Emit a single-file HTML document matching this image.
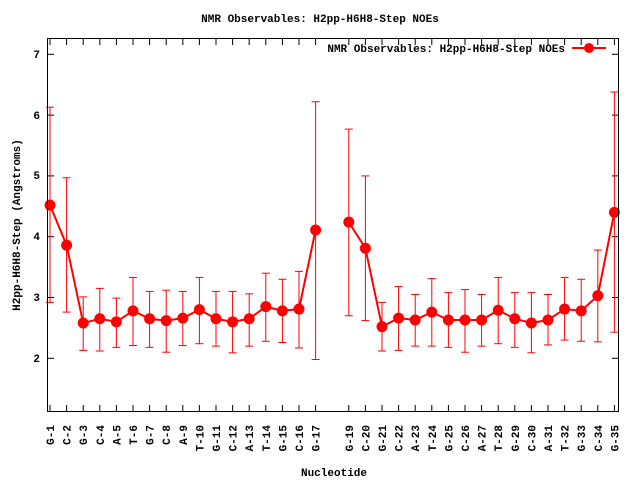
<!DOCTYPE html>
<html><head><meta charset="utf-8"><style>
body{margin:0;background:#fff}
svg text{font-family:"Liberation Mono","DejaVu Sans Mono",monospace;font-weight:bold;font-size:11px;fill:#000}
</style></head><body>
<svg id="s" width="640" height="480" xmlns="http://www.w3.org/2000/svg">
<rect width="640" height="480" fill="#fff"/>
<text x="320" y="22" text-anchor="middle">NMR Observables: H2pp-H6H8-Step NOEs</text>
<text x="334" y="476" text-anchor="middle">Nucleotide</text>
<text transform="translate(20,225) rotate(-90)" text-anchor="middle">H2pp-H6H8-Step (Angstroms)</text>
<text x="565" y="52" text-anchor="end">NMR Observables: H2pp-H6H8-Step NOEs</text>
<line x1="572" y1="48" x2="606" y2="48" stroke="#f00" stroke-width="2"/>
<circle cx="589" cy="48" r="5" fill="#f00"/>
<g text-anchor="end" style="font-size:12px">
<text x="40" y="58">7</text><text x="40" y="119">6</text><text x="40" y="179">5</text>
<text x="40" y="240">4</text><text x="40" y="301">3</text><text x="40" y="362">2</text>
</g>
<g id="plot"></g>
<rect x="47.5" y="38.5" width="571" height="373" fill="none" stroke="#000" stroke-width="1"/>
<g text-anchor="end">
<text transform="translate(54,425) rotate(-90)">G-1</text>
<text transform="translate(70.6,425) rotate(-90)">C-2</text>
<text transform="translate(87.2,425) rotate(-90)">G-3</text>
<text transform="translate(103.8,425) rotate(-90)">C-4</text>
<text transform="translate(120.4,425) rotate(-90)">A-5</text>
<text transform="translate(137,425) rotate(-90)">T-6</text>
<text transform="translate(153.6,425) rotate(-90)">G-7</text>
<text transform="translate(170.2,425) rotate(-90)">C-8</text>
<text transform="translate(186.8,425) rotate(-90)">A-9</text>
<text transform="translate(203.4,425) rotate(-90)">T-10</text>
<text transform="translate(220,425) rotate(-90)">G-11</text>
<text transform="translate(236.6,425) rotate(-90)">C-12</text>
<text transform="translate(253.2,425) rotate(-90)">A-13</text>
<text transform="translate(269.8,425) rotate(-90)">T-14</text>
<text transform="translate(286.4,425) rotate(-90)">G-15</text>
<text transform="translate(303,425) rotate(-90)">C-16</text>
<text transform="translate(319.6,425) rotate(-90)">G-17</text>
<text transform="translate(352.8,425) rotate(-90)">G-19</text>
<text transform="translate(369.4,425) rotate(-90)">C-20</text>
<text transform="translate(386,425) rotate(-90)">G-21</text>
<text transform="translate(402.6,425) rotate(-90)">C-22</text>
<text transform="translate(419.2,425) rotate(-90)">A-23</text>
<text transform="translate(435.8,425) rotate(-90)">T-24</text>
<text transform="translate(452.4,425) rotate(-90)">G-25</text>
<text transform="translate(469,425) rotate(-90)">C-26</text>
<text transform="translate(485.6,425) rotate(-90)">A-27</text>
<text transform="translate(502.2,425) rotate(-90)">T-28</text>
<text transform="translate(518.8,425) rotate(-90)">G-29</text>
<text transform="translate(535.4,425) rotate(-90)">C-30</text>
<text transform="translate(552,425) rotate(-90)">A-31</text>
<text transform="translate(568.6,425) rotate(-90)">T-32</text>
<text transform="translate(585.2,425) rotate(-90)">G-33</text>
<text transform="translate(601.8,425) rotate(-90)">C-34</text>
<text transform="translate(618.4,425) rotate(-90)">G-35</text>
</g>
</svg>
<script>
var d=[[1,4.52,2.92,6.13],[2,3.86,2.76,4.97],[3,2.58,2.13,3.01],[4,2.65,2.12,3.15],[5,2.60,2.18,2.99],[6,2.78,2.21,3.33],[7,2.65,2.18,3.10],[8,2.62,2.10,3.12],[9,2.66,2.21,3.10],[10,2.80,2.24,3.33],[11,2.65,2.20,3.10],[12,2.60,2.09,3.10],[13,2.65,2.20,3.06],[14,2.85,2.28,3.40],[15,2.78,2.26,3.30],[16,2.81,2.17,3.43],[17,4.11,1.98,6.22],
[19,4.24,2.70,5.77],[20,3.81,2.62,5.00],[21,2.52,2.12,2.92],[22,2.66,2.13,3.18],[23,2.63,2.20,3.05],[24,2.76,2.20,3.31],[25,2.63,2.18,3.08],[26,2.63,2.10,3.13],[27,2.63,2.20,3.05],[28,2.79,2.24,3.33],[29,2.65,2.18,3.08],[30,2.58,2.09,3.08],[31,2.63,2.22,3.05],[32,2.81,2.30,3.33],[33,2.78,2.28,3.30],[34,3.03,2.27,3.78],[35,4.40,2.43,6.38]];
function X(i){return 50+(i-1)*16.6}function Y(v){return 54.3+(7-v)*60.8}
var h='';
for(var v=2;v<=7;v++){var y=Y(v).toFixed(1);h+='<line x1="48" y1="'+y+'" x2="54" y2="'+y+'" stroke="#000"/><line x1="612" y1="'+y+'" x2="618" y2="'+y+'" stroke="#000"/>';}
for(var i=1;i<=35;i++){if(i==18)continue;var x=X(i).toFixed(1);h+='<line x1="'+x+'" y1="411" x2="'+x+'" y2="405" stroke="#000"/><line x1="'+x+'" y1="39" x2="'+x+'" y2="45" stroke="#000"/>';}
var p1=[],p2=[];
d.forEach(function(r){var x=X(r[0]),y1=Y(r[2]),y2=Y(r[3]);
h+='<line x1="'+x+'" y1="'+y1+'" x2="'+x+'" y2="'+y2+'" stroke="#f00"/>';
h+='<line x1="'+(x-4)+'" y1="'+y1+'" x2="'+(x+4)+'" y2="'+y1+'" stroke="#f00"/>';
h+='<line x1="'+(x-4)+'" y1="'+y2+'" x2="'+(x+4)+'" y2="'+y2+'" stroke="#f00"/>';
(r[0]<18?p1:p2).push(x+','+Y(r[1]));});
h+='<polyline points="'+p1.join(' ')+'" fill="none" stroke="#f00" stroke-width="2"/>';
h+='<polyline points="'+p2.join(' ')+'" fill="none" stroke="#f00" stroke-width="2"/>';
d.forEach(function(r){h+='<circle cx="'+X(r[0])+'" cy="'+Y(r[1])+'" r="5.5" fill="#f00"/>';});
document.getElementById('plot').innerHTML=h;
</script>
</body></html>
